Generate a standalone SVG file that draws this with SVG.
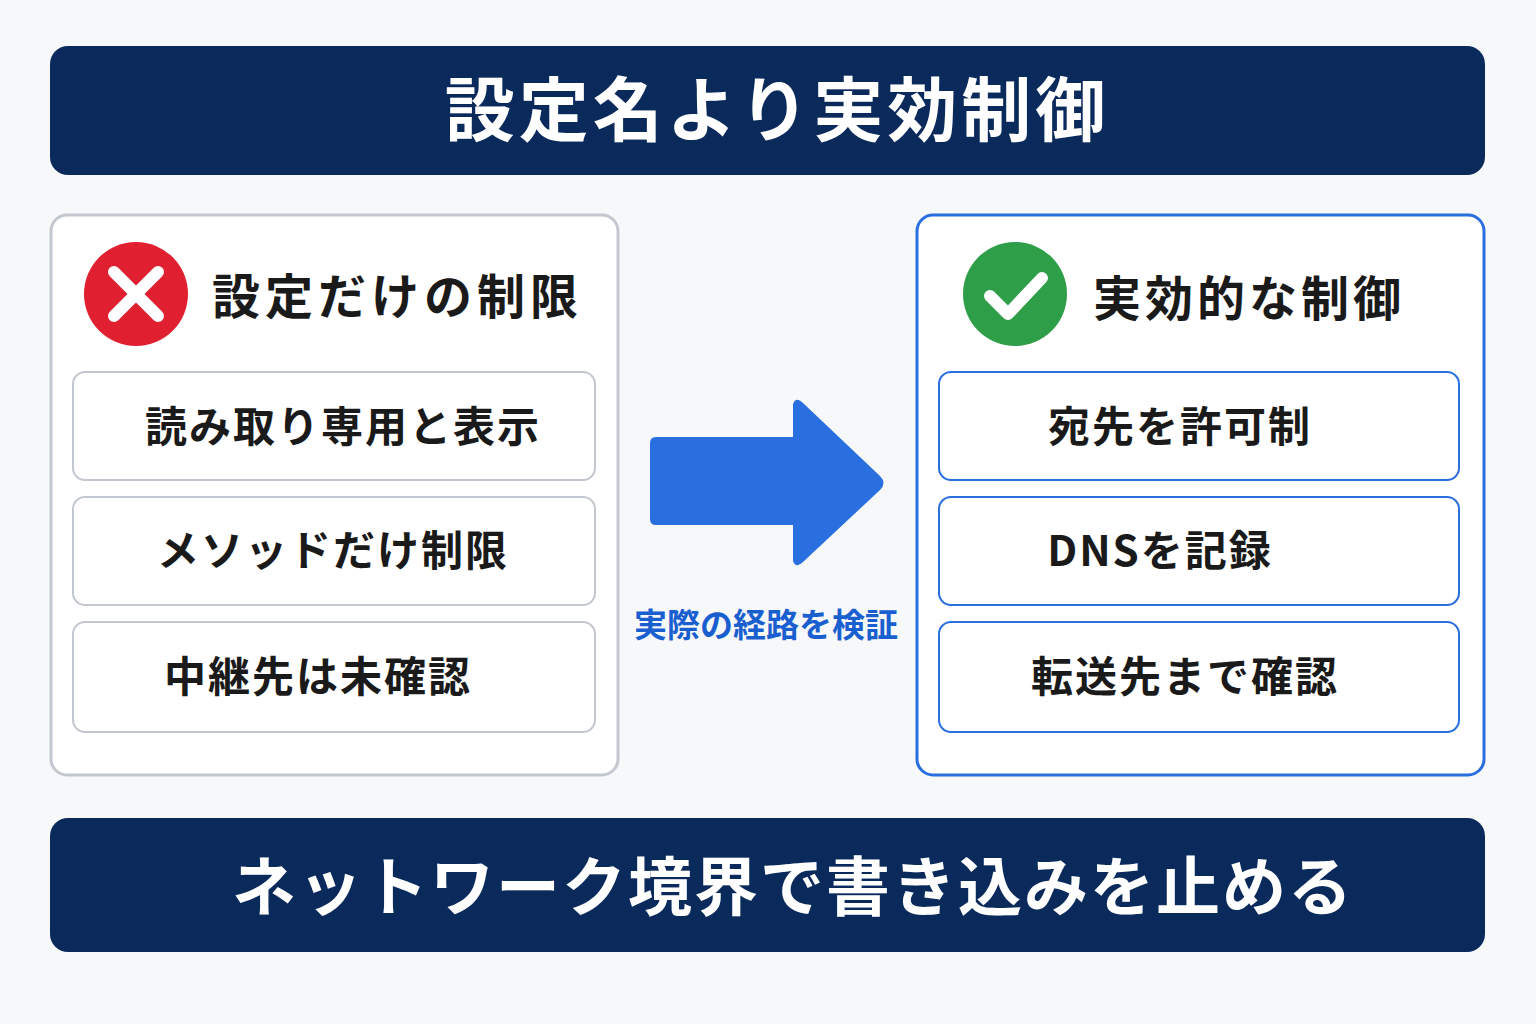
<svg xmlns="http://www.w3.org/2000/svg" width="1536" height="1024" viewBox="0 0 1536 1024">
<style>
.t{font-family:"Noto Sans CJK JP","Noto Sans",sans-serif;font-weight:700}
.bar{fill:#0b2a5c}
.item{fill:#fff;stroke-width:2}
.i{letter-spacing:2px}
</style>
<rect width="1536" height="1024" fill="#f7f8fa"/>
<g id="title"><rect class="bar" x="50" y="46" width="1435" height="129" rx="18"/>
<text class="t" x="777" y="136" font-size="70" fill="#fff" text-anchor="middle" letter-spacing="4">設定名より実効制御</text></g>
<g id="left">
<rect x="51" y="215" width="567" height="560" rx="16" fill="#fff" stroke="#c3c7cf" stroke-width="3"/>
<circle cx="136" cy="294" r="52" fill="#e02030"/>
<path d="M114 272L158 316M158 272L114 316" stroke="#fff" stroke-width="12" stroke-linecap="round"/>
<text class="t" x="212" y="314" font-size="48" fill="#1a1a1a" letter-spacing="5">設定だけの制限</text>
<g id="l1"><rect class="item" x="73" y="372" width="522" height="108" rx="12" stroke="#c3c7cf"/><text class="t i" x="343" y="442" font-size="42" text-anchor="middle" fill="#1a1a1a">読み取り専用と表示</text></g>
<g id="l2"><rect class="item" x="73" y="497" width="522" height="108" rx="12" stroke="#c3c7cf"/><text class="t i" x="333" y="566" font-size="42" text-anchor="middle" fill="#1a1a1a">メソッドだけ制限</text></g>
<g id="l3"><rect class="item" x="73" y="622" width="522" height="110" rx="12" stroke="#c3c7cf"/><text class="t i" x="318" y="692" font-size="42" text-anchor="middle" fill="#1a1a1a">中継先は未確認</text></g>
</g>
<g id="connectors">
<path d="M656 437H793V404Q796 396 803 403L880 476Q887 483 880 490L803 562Q796 569 793 561V525H656Q650 525 650 519V443Q650 437 656 437Z" fill="#2a6fdf"/>
<text class="t" x="766" y="637" font-size="33" fill="#1a5fd0" text-anchor="middle">実際の経路を検証</text>
</g>
<g id="right">
<rect x="917" y="215" width="567" height="560" rx="16" fill="#fff" stroke="#2a6fdf" stroke-width="3"/>
<circle cx="1015" cy="294" r="52" fill="#2e9e48"/>
<path d="M990 296L1008 314L1042 278" fill="none" stroke="#fff" stroke-width="12" stroke-linecap="round" stroke-linejoin="round"/>
<text class="t" x="1093" y="316" font-size="48" fill="#1a1a1a" letter-spacing="4">実効的な制御</text>
<g id="r1"><rect class="item" x="939" y="372" width="520" height="108" rx="12" stroke="#2a6fdf"/><text class="t i" x="1180" y="442" font-size="42" text-anchor="middle" fill="#1a1a1a">宛先を許可制</text></g>
<g id="r2"><rect class="item" x="939" y="497" width="520" height="108" rx="12" stroke="#2a6fdf"/><text class="t i" x="1160" y="566" font-size="42" text-anchor="middle" fill="#1a1a1a">DNSを記録</text></g>
<g id="r3"><rect class="item" x="939" y="622" width="520" height="110" rx="12" stroke="#2a6fdf"/><text class="t i" x="1185" y="692" font-size="42" text-anchor="middle" fill="#1a1a1a">転送先まで確認</text></g>
</g>
<g id="footer"><rect class="bar" x="50" y="818" width="1435" height="134" rx="18"/>
<text class="t" x="793" y="910" font-size="64" fill="#fff" text-anchor="middle" letter-spacing="2">ネットワーク境界で書き込みを止める</text></g>
</svg>
